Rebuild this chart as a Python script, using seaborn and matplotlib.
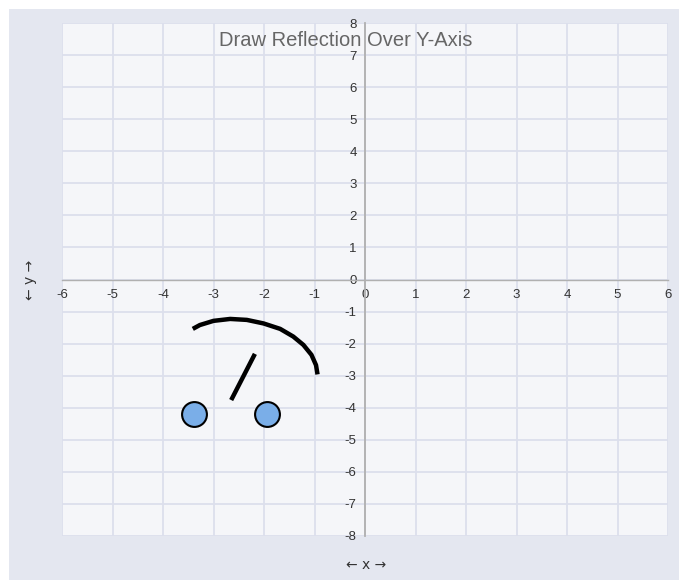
import numpy as np
import pandas as pd
import seaborn as sns
import matplotlib.pyplot as plt
from matplotlib.patches import Rectangle

# data
arc_x = [-3.41, -3.27, -3.00, -2.67, -2.34, -2.01, -1.68, -1.42, -1.22, -1.06, -0.97, -0.94]
arc_y = [-1.54, -1.42, -1.29, -1.23, -1.26, -1.37, -1.54, -1.78, -2.04, -2.35, -2.67, -2.96]
seg_x = [-2.18, -2.65]
seg_y = [-2.32, -3.76]
pt_x = [-3.38, -1.95]
pt_y = [-4.2, -4.2]
x_ticks = list(range(-6, 7))
y_ticks = list(range(-8, 9))

sns.set_style('white')
plt.rcParams['font.family'] = ['Liberation Sans', 'DejaVu Sans']
plt.rcParams['axes.unicode_minus'] = False

fig = plt.figure(figsize=(6.79, 5.80), dpi=100, facecolor='white')
fig.patches.append(Rectangle((9 / 679, 0), 670 / 679, 571 / 580, transform=fig.transFigure,
                             facecolor='#e4e7f0', edgecolor='none', zorder=-10))
ax = fig.add_axes([62 / 679, 44 / 580, 606 / 679, 513 / 580])
ax.set_facecolor('#f5f6f9')

ax.set_xlim(-6, 6)
ax.set_ylim(-8, 8)
ax.set_xticks(x_ticks)
ax.set_yticks(y_ticks)
ax.grid(True, color='#dcdfec', linewidth=1.3)
ax.set_axisbelow(True)

for s in ['top', 'right']:
    ax.spines[s].set_visible(False)
ax.spines['left'].set_position(('data', 0))
ax.spines['bottom'].set_position(('data', 0))
ax.spines['left'].set_color('#b0b0b0')
ax.spines['bottom'].set_color('#b0b0b0')
ax.spines['left'].set_linewidth(1.3)
ax.spines['bottom'].set_linewidth(1.0)
ax.tick_params(axis='y', direction='out', length=5, color='#b0b0b0', labelsize=9.5, labelcolor='#333333', pad=1)
ax.tick_params(axis='x', direction='out', length=0, color='#b0b0b0', labelsize=9.5, labelcolor='#333333', pad=7)
ax.set_xticklabels([str(t) for t in x_ticks])
ax.set_yticklabels([str(t) for t in y_ticks])

arc = pd.DataFrame({'x': arc_x, 'y': arc_y})
seg = pd.DataFrame({'x': seg_x, 'y': seg_y})
pts = pd.DataFrame({'x': pt_x, 'y': pt_y})
sns.lineplot(data=arc, x='x', y='y', sort=False, color='black', linewidth=3.2, ax=ax,
             solid_capstyle='butt', solid_joinstyle='round', zorder=5)
sns.lineplot(data=seg, x='x', y='y', sort=False, color='black', linewidth=3.2, ax=ax,
             solid_capstyle='butt', zorder=5)
sns.scatterplot(data=pts, x='x', y='y', s=320, color='#7aaee8', edgecolor='black',
                linewidth=1.5, ax=ax, zorder=6)
ax.set_xlabel('')
ax.set_ylabel('')
ax.set_xlim(-6, 6)
ax.set_ylim(-8, 8)

fig.text(346 / 679, 1 - 40 / 580, 'Draw Reflection Over Y-Axis', ha='center', va='center',
         fontsize=14.5, color='#666666')
fig.text(366 / 679, 1 - 565 / 580, '\u2190 x \u2192', ha='center', va='center',
         fontsize=10, color='#333333', family=['DejaVu Sans'])
fig.text(30 / 679, 1 - 280 / 580, '\u2190 y \u2192', ha='center', va='center', rotation=90,
         fontsize=10, color='#333333', family=['DejaVu Sans'])

fig.savefig('out.png', dpi=100)
